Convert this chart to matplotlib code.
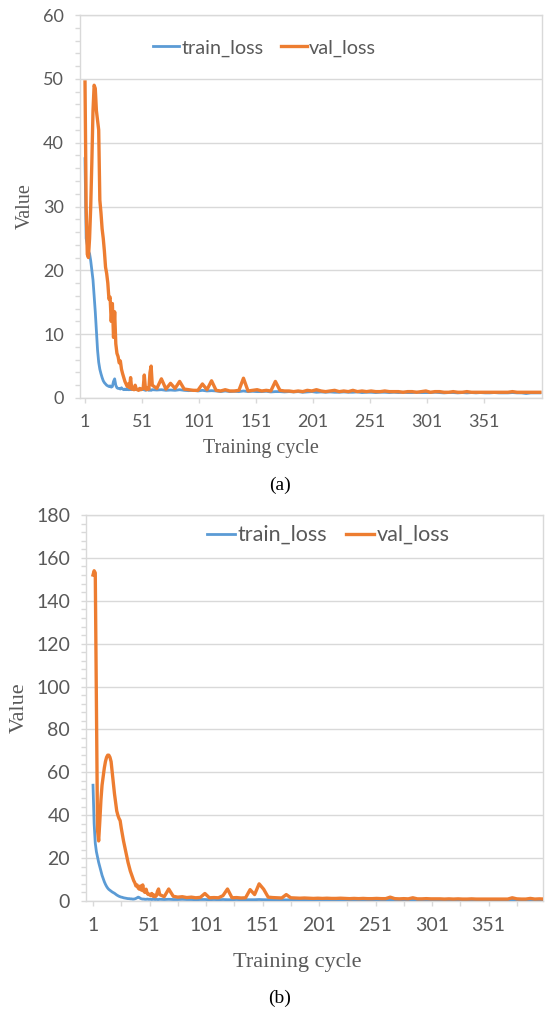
import matplotlib
matplotlib.use("Agg")
import matplotlib.pyplot as plt
from matplotlib.ticker import MultipleLocator, FixedLocator

# training cycles: every cycle for the start, then every 4th
cycles = list(range(1, 61)) + list(range(64, 401, 4))

# panel (a)
train_a = [
    37.5, 25, 24, 23, 22.6, 21.5, 20, 18.5, 16, 13.5,
    10.5, 7.5, 5.6, 4.5, 3.8, 3.2, 2.7, 2.4, 2.2, 2.0,
    1.9, 1.8, 1.9, 1.7, 1.8, 2.6, 3.0, 2.0, 1.6, 1.5,
    1.5, 1.4, 1.6, 1.4, 1.3, 1.4, 1.3, 1.4, 1.3, 1.3,
    1.4, 1.3, 1.5, 1.3, 1.4, 1.3, 1.3, 1.4, 1.3, 1.3,
    1.4, 1.3, 1.3, 1.2, 1.3, 1.3, 1.2, 1.3, 1.2, 1.3,
    1.25, 1.3, 1.2, 1.25, 1.2, 1.3, 1.2, 1.15, 1.2, 1.1,
    1.2, 1.1, 1.15, 1.1, 1.0, 1.1, 1.0, 1.05, 1.0, 1.1,
    1.0, 1.05, 1.0, 1.0, 1.05, 0.95, 1.0, 1.0, 0.95, 1.0,
    0.95, 1.0, 0.9, 0.95, 1.0, 0.9, 0.95, 0.9, 0.95, 0.9,
    0.9, 0.95, 0.9, 0.9, 0.95, 0.85, 0.9, 0.9, 0.85, 0.9,
    0.9, 0.85, 0.9, 0.85, 0.9, 0.85, 0.85, 0.9, 0.85, 0.85,
    0.85, 0.9, 0.85, 0.8, 0.85, 0.85, 0.8, 0.85, 0.8, 0.85,
    0.8, 0.85, 0.8, 0.8, 0.85, 0.8, 0.8, 0.8, 0.85, 0.8,
    0.8, 0.7, 0.8, 0.8, 0.8,
]
val_a = [
    49.5, 30, 22.5, 22, 25, 30, 37, 45, 49, 48.5,
    45, 43.5, 42, 31, 29, 26.5, 25, 23, 20.5, 19.5,
    18, 15.5, 15.8, 12, 14.8, 9.5, 13.5, 8.5, 7, 6.5,
    5.5, 5.8, 4.5, 3.8, 3.2, 2.6, 2.2, 1.8, 2.2, 1.6,
    3.2, 1.4, 1.6, 1.3, 2.0, 1.4, 1.3, 1.2, 1.5, 1.3,
    1.4, 1.5, 3.6, 1.5, 1.3, 1.6, 1.4, 4.0, 5.0, 2.0,
    1.5, 3.0, 1.4, 2.3, 1.5, 2.6, 1.4, 1.3, 1.2, 1.2,
    2.2, 1.3, 2.7, 1.2, 1.1, 1.3, 1.1, 1.1, 1.2, 3.1,
    1.1, 1.2, 1.3, 1.1, 1.2, 1.1, 2.6, 1.2, 1.1, 1.1,
    1.0, 1.1, 1.0, 1.2, 1.1, 1.3, 1.1, 1.0, 1.1, 1.2,
    1.0, 1.1, 1.0, 1.2, 1.0, 1.1, 1.0, 1.1, 1.0, 1.0,
    1.1, 1.0, 1.0, 1.0, 0.9, 1.0, 1.0, 0.9, 1.0, 1.1,
    0.9, 1.0, 1.0, 0.9, 0.9, 1.0, 0.9, 0.9, 1.0, 0.9,
    0.9, 0.9, 0.9, 0.9, 0.9, 0.9, 0.9, 0.9, 1.0, 0.9,
    0.9, 0.9, 0.9, 0.9, 0.9,
]

# panel (b)
train_b = [
    54, 36, 27, 23, 20.5, 18, 16, 14, 12, 10.5,
    9, 7.8, 6.8, 6, 5.4, 5, 4.6, 4.2, 3.9, 3.6,
    3.2, 2.8, 2.5, 2.2, 2.0, 1.8, 1.7, 1.5, 1.4, 1.3,
    1.2, 1.1, 1.1, 1.0, 1.0, 0.9, 0.9, 1.0, 1.2, 1.5,
    1.8, 1.6, 1.2, 1.0, 0.9, 0.9, 0.8, 0.8, 0.9, 0.8,
    0.8, 0.8, 0.7, 0.8, 0.8, 0.7, 0.8, 0.7, 0.7, 0.8,
    0.7, 0.8, 0.7, 0.7, 0.8, 0.7, 0.7, 0.6, 0.7, 0.7,
    0.6, 0.7, 0.6, 0.7, 0.6, 0.6, 0.7, 0.6, 0.6, 0.6,
    0.6, 0.7, 0.6, 0.6, 0.5, 0.6, 0.6, 0.5, 0.6, 0.6,
    0.5, 0.6, 0.5, 0.5, 0.6, 0.5, 0.5, 0.5, 0.6, 0.5,
    0.5, 0.5, 0.5, 0.5, 0.5, 0.5, 0.6, 0.5, 0.5, 0.5,
    0.5, 0.5, 0.4, 0.5, 0.5, 0.5, 0.4, 0.5, 0.5, 0.4,
    0.5, 0.4, 0.5, 0.4, 0.4, 0.5, 0.4, 0.4, 0.5, 0.4,
    0.4, 0.4, 0.4, 0.5, 0.4, 0.4, 0.4, 0.4, 0.4, 0.4,
    0.4, 0.4, 0.4, 0.4, 0.4,
]
val_b = [
    152, 154, 153, 95, 33, 28, 37, 47, 54, 58,
    62, 65, 67, 68, 68, 67, 65, 60, 55, 50,
    46, 42, 40, 38.5, 37.5, 34, 31, 28, 25.5, 23,
    20.5, 18, 16, 14, 12.5, 11, 9.5, 8.5, 7, 7.5,
    6, 5.5, 7, 5, 7.5, 4.5, 4, 5.5, 3.5, 3,
    3.2, 2.5, 3.5, 2.2, 2.8, 2.0, 2.4, 4.5, 5.6, 3.0,
    2.0, 5.6, 2.2, 1.8, 2.0, 1.6, 1.8, 1.5, 1.7, 3.5,
    1.5, 1.6, 1.5, 2.5, 5.6, 1.5, 1.6, 1.4, 1.5, 5.3,
    3.0, 8.0, 5.5, 1.8, 1.6, 1.5, 1.4, 3.0, 1.5, 1.4,
    1.3, 1.4, 1.3, 1.2, 1.3, 1.2, 1.3, 1.2, 1.2, 1.3,
    1.2, 1.1, 1.2, 1.1, 1.2, 1.1, 1.1, 1.2, 1.1, 1.1,
    1.8, 1.1, 1.0, 1.1, 1.0, 1.5, 1.0, 1.0, 1.1, 1.0,
    1.0, 1.0, 0.9, 1.0, 0.9, 1.0, 0.9, 0.9, 1.0, 0.9,
    0.9, 0.9, 0.9, 0.9, 0.9, 0.9, 0.9, 1.5, 1.0, 0.9,
    0.9, 1.2, 0.9, 1.0, 0.9,
]

tick_labels = ["1", "51", "101", "151", "201", "251", "301", "351"]

BLUE = "#5B9BD5"
ORANGE = "#ED7D31"
GRID = "#d9d9d9"
TXT = "#595959"

fig = plt.figure(figsize=(5.46, 10.11), dpi=100)


def draw_panel(ax, train, val, ymax, ystep, yminor, xlim, tick_fs, leg_fs, leg_xy, xminor):
    ax.plot(cycles, train, color=BLUE, lw=2.0, label="train_loss", zorder=3)
    ax.plot(cycles, val, color=ORANGE, lw=2.4, label="val_loss", zorder=4)

    ax.set_xlim(*xlim)
    ax.set_ylim(0, ymax)
    ax.yaxis.set_major_locator(MultipleLocator(ystep))
    ax.yaxis.set_minor_locator(MultipleLocator(yminor))
    ax.xaxis.set_major_locator(FixedLocator([int(t) for t in tick_labels]))
    ax.set_xticklabels(tick_labels)
    if xminor:
        ax.xaxis.set_minor_locator(FixedLocator(list(range(26, 401, 50))))

    ax.grid(axis="y", color=GRID, lw=1.0)
    ax.set_axisbelow(True)
    for s in ax.spines.values():
        s.set_color(GRID)
        s.set_linewidth(1.0)

    ax.tick_params(which="both", direction="out", color=GRID, length=3.5, width=1.0)
    ax.tick_params(axis="both", which="major", labelsize=tick_fs, labelcolor=TXT, pad=8)
    for lab in ax.get_xticklabels() + ax.get_yticklabels():
        lab.set_family("Lato")

    leg = ax.legend(loc="center", bbox_to_anchor=leg_xy, ncol=2, frameon=False,
                    handlelength=1.3, handletextpad=0.1, columnspacing=0.9,
                    prop={"family": "Lato", "size": leg_fs})
    for t in leg.get_texts():
        t.set_color(TXT)


ax1 = fig.add_axes([80 / 546, 1 - 398 / 1011, 462 / 546, 383 / 1011])
draw_panel(ax1, train_a, val_a, 60, 10, 2, (-3.4, 401.9), 13, 14.3, (0.40, 0.914), False)

ax2 = fig.add_axes([86 / 546, 1 - 901 / 1011, 457 / 546, 386 / 1011])
draw_panel(ax2, train_b, val_b, 180, 20, 4, (-5.2, 399.2), 14, 15.5, (0.53, 0.948), True)

serif = "Liberation Serif"
fig.text(25 / 546, 1 - 206 / 1011, "Value", rotation=90, ha="center", va="center",
         family=serif, size=14.5, color=TXT)
fig.text(261 / 546, 1 - 448 / 1011, "Training cycle", ha="center", va="center",
         family=serif, size=14.5, color=TXT)
fig.text(280 / 546, 1 - 485 / 1011, "(a)", ha="center", va="center",
         family=serif, size=14, color="black")

fig.text(19 / 546, 1 - 708 / 1011, "Value", rotation=90, ha="center", va="center",
         family=serif, size=16, color=TXT)
fig.text(297 / 546, 1 - 962 / 1011, "Training cycle", ha="center", va="center",
         family=serif, size=16, color=TXT)
fig.text(280 / 546, 1 - 998 / 1011, "(b)", ha="center", va="center",
         family=serif, size=14, color="black")

fig.savefig("out.png", dpi=100)
